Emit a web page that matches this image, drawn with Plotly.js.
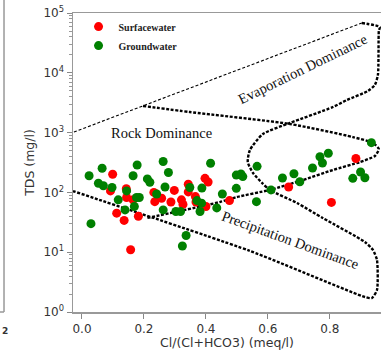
<!DOCTYPE html>
<html>
<head>
<meta charset="utf-8">
<script src="https://cdn.plot.ly/plotly-3.0.1.min.js"></script>
<style>html,body{margin:0;padding:0;background:#fff;}#chart{width:381px;height:350px;}</style>
</head>
<body>
<div id="chart"></div>
<script>
// Surface water samples: Cl/(Cl+HCO3) ratio and TDS (mg/l)
var surfX = [0.099,0.092,0.143,0.144,0.165,0.112,0.136,0.182,0.232,0.235,0.257,0.298,0.287,0.321,0.326,0.343,0.343,0.366,0.368,0.397,0.407,0.400,0.157,0.476,0.667,0.884,0.805];
var surfY = [201,106,115,82,75,45,34,40,100,70,80,108,69,75,63,137,102,85,69,172,149,58,11,73,123,369,68];

// Groundwater samples
var gwX = [0.023,0.065,0.053,0.069,0.097,0.117,0.144,0.165,0.178,0.139,0.176,0.185,0.169,0.211,0.219,0.262,0.279,0.241,0.268,0.262,0.303,0.318,0.348,0.371,0.387,0.381,0.386,0.415,0.435,0.453,0.029,0.336,0.324,0.498,0.513,0.519,0.498,0.565,0.563,0.610,0.647,0.684,0.703,0.744,0.768,0.776,0.795,0.934,0.899,0.874,0.913];
var gwY = [190,253,142,129,121,75,106,190,287,51,82,82,58,168,148,329,215,94,123,51,48,48,121,73,118,48,66,307,55,94,30,19,12.7,195,203,184,117,273,70,110,174,205,151,256,395,310,451,678,219,172,176];

// Gibbs boundary: upper (thin) line
var thinX = [-0.026,0.197,0.903];
var thinY = [1023,2786,68080];
// Gibbs boundary: outer boomerang (thick)
var outerX = [0.903,0.961,0.958,0.955,0.945,0.923,0.855,0.810,0.671,0.584,0.542,0.535,0.552,0.581,0.606,0.694,0.777,0.913,0.939,0.952,0.952,0.935,0.913,0.542,-0.029];
var outerY = [68080,58340,50000,9183,6252,4966,3508,2679,1449,948,512,322,211,144,110,66.5,37.3,14.8,10.9,7.41,2.33,1.71,1.78,10.5,105];
// Gibbs boundary: rock dominance lower loop (thick)
var innerX = [0.197,0.348,0.671,0.874,0.939,0.958,0.945,0.897,0.810,0.713,0.606,0.500,0.445,0.210];
var innerY = [2786,2208,1393,843,670,532,406,322,237,161,110,83.8,69,37.3];

var xTickVals = [0,0.2,0.4,0.6,0.8];
var xTickText = ['0.0','0.2','0.4','0.6','0.8'];
var yTickVals = [1,10,100,1000,10000,100000];
var yTickText = ['10<sup>0</sup>','10<sup>1</sup>','10<sup>2</sup>','10<sup>3</sup>','10<sup>4</sup>','10<sup>5</sup>'];

var minorVals = [];
for (var e = 0; e < 5; e++) { for (var m = 2; m < 10; m++) { minorVals.push(m * Math.pow(10, e)); } }

var traces = [
  {x: thinX, y: thinY, mode: 'lines', line: {color: '#000', width: 1.1, dash: '3px,2px'}, showlegend: false, hoverinfo: 'skip'},
  {x: outerX, y: outerY, mode: 'lines', line: {color: '#000', width: 2.4, dash: '3px,1.6px', shape: 'spline', smoothing: 0.6}, showlegend: false, hoverinfo: 'skip'},
  {x: innerX, y: innerY, mode: 'lines', line: {color: '#000', width: 2.4, dash: '3px,1.6px', shape: 'spline', smoothing: 0.6}, showlegend: false, hoverinfo: 'skip'},
  {x: surfX, y: surfY, mode: 'markers', name: 'Surfacewater', marker: {color: '#ff0000', size: 9, line: {width: 0}}},
  {x: gwX, y: gwY, mode: 'markers', name: 'Groundwater', marker: {color: '#008000', size: 9, line: {width: 0}}}
];

var tickFont = {family: 'DejaVu Sans', size: 12, color: '#333'};
var serif = 'Liberation Serif';

var layout = {
  width: 381, height: 350,
  margin: {l: 73, r: 0, t: 13, b: 38},
  paper_bgcolor: '#fff', plot_bgcolor: '#fff',
  showlegend: true,
  legend: {x: 0.018, y: 1.003, xanchor: 'left', yanchor: 'top', bgcolor: 'rgba(0,0,0,0)',
           font: {family: serif, size: 10, color: '#222', weight: 'bold'}, itemwidth: 30, tracegroupgap: 0},
  xaxis: {
    range: [-0.029, 0.965], tickmode: 'array', tickvals: xTickVals, ticktext: xTickText,
    ticks: 'outside', ticklen: 5, tickcolor: '#888', tickwidth: 1,
    showline: true, linecolor: '#999', linewidth: 1.5, mirror: true,
    showgrid: false, zeroline: false, tickfont: tickFont,
    title: {text: 'Cl/(Cl+HCO3) (meq/l)', font: {family: 'DejaVu Sans', size: 12.5, color: '#333'}, standoff: 4}
  },
  yaxis: {
    type: 'log', range: [0, 5], tickmode: 'array', tickvals: yTickVals, ticktext: yTickText,
    ticks: 'outside', ticklen: 5, tickcolor: '#888', tickwidth: 1,
    minor: {tickmode: 'array', tickvals: minorVals, ticks: 'outside', ticklen: 3, tickcolor: '#999', tickwidth: 1, showgrid: false},
    showline: true, linecolor: '#999', linewidth: 1.5, mirror: false,
    showgrid: false, zeroline: false, tickfont: tickFont,
    title: {text: 'TDS (mg/l)', font: {family: 'DejaVu Sans', size: 12.5, color: '#333'}, standoff: 6}
  },
  annotations: [
    {x: 0.255, y: 2.993, xref: 'x', yref: 'y', text: 'Rock Dominance', showarrow: false,
     font: {family: serif, size: 14.5, color: '#111'}, xanchor: 'center', yanchor: 'middle'},
    {x: 0.712, y: 4.06, xref: 'x', yref: 'y', text: 'Evaporation Dominance', showarrow: false, textangle: -26,
     font: {family: serif, size: 14.5, color: '#111'}, xanchor: 'center', yanchor: 'middle'},
    {x: 0.673, y: 1.204, xref: 'x', yref: 'y', text: 'Precipitation Dominance', showarrow: false, textangle: 20,
     font: {family: serif, size: 14.5, color: '#111'}, xanchor: 'center', yanchor: 'middle'},
    {x: -0.222, y: -0.04, xref: 'paper', yref: 'paper', text: '<b>2</b>', showarrow: false,
     font: {family: 'DejaVu Sans', size: 9, color: '#333'}, xanchor: 'center', yanchor: 'top'}
  ],
  shapes: [
    {type: 'line', xref: 'paper', yref: 'paper', x0: -0.224, x1: -0.224, y0: 0, y1: 1.05, line: {color: '#999', width: 1.5}},
    {type: 'line', xref: 'paper', yref: 'paper', x0: -0.24, x1: -0.224, y0: 0, y1: 0, line: {color: '#999', width: 1.5}}
  ]
};

Plotly.newPlot('chart', traces, layout, {displayModeBar: false, staticPlot: true});
</script>
</body>
</html>
